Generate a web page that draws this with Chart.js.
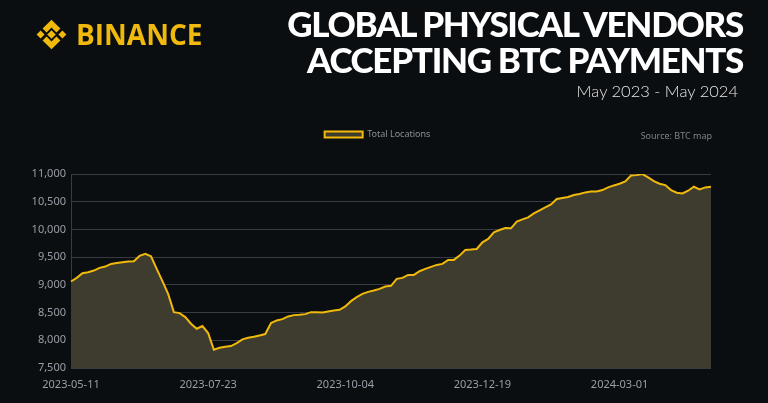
<!DOCTYPE html>
<html>
<head>
<meta charset="utf-8">
<script src="https://cdn.jsdelivr.net/npm/chart.js@4.4.1/dist/chart.umd.min.js"></script>
<style>
  html, body { margin: 0; padding: 0; background: #0b0e11; }
  #wrap { position: relative; width: 768px; height: 403px; overflow: hidden; background: #0b0e11; }
  #chart { position: absolute; left: 0; top: 0; }
  .logo { position: absolute; left: 35px; top: 15px; display: flex; align-items: center; }
  .logo span { font-family: "Open Sans", sans-serif; font-weight: 700; font-size: 28px; color: #f0b90b; margin-left: 8px; }
  .title { position: absolute; right: 25px; top: 5px; text-align: right; font-family: Lato, sans-serif; font-weight: 900;
           font-size: 35px; line-height: 36px; color: #fff; letter-spacing: -1.3px; }
  .sub { position: absolute; right: 30px; top: 81px; font-family: Lato, sans-serif; font-weight: 300; font-size: 16.5px; color: #e4e4e4; }
  .source { position: absolute; right: 56px; top: 129px; font-family: "Noto Sans", sans-serif; font-size: 9px; color: #7d8188; }
</style>
</head>
<body>
<div id="wrap">
  <canvas id="chart" width="768" height="403"></canvas>
  <div class="logo">
    <svg width="33" height="33" viewBox="0 0 100 100">
      <g fill="#f0b90b">
        <polygon points="50,37 63,50 50,63 37,50"/>
        <polygon points="5,50 17,38 29,50 17,62"/>
        <polygon points="71,50 83,38 95,50 83,62"/>
        <polygon points="50,5 77,32 65,44 50,29 35,44 23,32"/>
        <polygon points="50,95 77,68 65,56 50,71 35,56 23,68"/>
      </g>
    </svg>
    <span>BINANCE</span>
  </div>
  <div class="title">GLOBAL PHYSICAL VENDORS<br>ACCEPTING BTC PAYMENTS</div>
  <div class="sub">May 2023 - May 2024</div>
  <div class="source">Source: BTC map</div>
</div>
<script>
const seriesName = "Total Locations";
const tickDates = ["2023-05-11", "2023-07-23", "2023-10-04", "2023-12-19", "2024-03-01"];
const pointsPerTick = 24;
const locations = [
  9060, 9126, 9210, 9228, 9258, 9306, 9330, 9378, 9396, 9408,
  9420, 9426, 9522, 9558, 9516, 9288, 9066, 8838, 8508, 8490,
  8418, 8298, 8208, 8256, 8130, 7830, 7866, 7884, 7896, 7950,
  8016, 8046, 8064, 8088, 8112, 8310, 8358, 8382, 8430, 8454,
  8460, 8472, 8508, 8508, 8502, 8520, 8538, 8550, 8610, 8706,
  8778, 8838, 8874, 8898, 8928, 8970, 8982, 9108, 9126, 9180,
  9180, 9246, 9288, 9324, 9360, 9378, 9450, 9450, 9528, 9630,
  9636, 9648, 9768, 9828, 9948, 9990, 10026, 10020, 10140, 10182,
  10218, 10290, 10344, 10398, 10452, 10548, 10566, 10584, 10620, 10638,
  10668, 10686, 10686, 10710, 10758, 10794, 10824, 10866, 10974, 10980,
  10998, 10938, 10872, 10824, 10800, 10710, 10662, 10650, 10698, 10770,
  10722, 10758, 10770
];
const labels = locations.map((v, i) => i);

const gridColor = "rgba(190,200,215,0.25)";
const tickColor = "#9a9ea6";

// extra space under the legend, and nudge it right like the original
const legendTweak = {
  id: "legendTweak",
  beforeInit(chart) {
    const fit = chart.legend.fit;
    chart.legend.fit = function () {
      fit.bind(chart.legend)();
      this.height += 25;
    };
  },
  afterLayout(chart) {
    chart.legend.left += 22;
    chart.legend.right += 22;
  }
};

new Chart(document.getElementById("chart"), {
  type: "line",
  data: {
    labels: labels,
    datasets: [{
      label: seriesName,
      data: locations,
      borderColor: "#f0b90b",
      backgroundColor: "#3e3b2f",
      borderWidth: 2,
      pointRadius: 0,
      tension: 0,
      fill: "start"
    }]
  },
  options: {
    responsive: false,
    animation: false,
    layout: { padding: { top: 120, right: 57, left: 0, bottom: 0 } },
    plugins: {
      legend: {
        labels: {
          color: "#8a8d93",
          boxWidth: 38,
          boxHeight: 6,
          padding: 10,
          font: { family: "Noto Sans", size: 9 }
        }
      },
      tooltip: { enabled: false }
    },
    scales: {
      x: {
        grid: { display: false, drawTicks: false },
        border: { display: false },
        afterFit(scale) { scale.height = 35; },
        ticks: {
          color: tickColor,
          padding: 10,
          autoSkip: false,
          maxRotation: 0,
          font: { family: "Noto Sans", size: 11 },
          callback: (v, i) => (i % pointsPerTick === 0 ? tickDates[i / pointsPerTick] : null)
        }
      },
      y: {
        min: 7500,
        max: 11000,
        z: 1,
        afterFit(scale) { scale.width = 71; },
        grid: { color: gridColor, drawTicks: false },
        border: { color: gridColor },
        ticks: {
          stepSize: 500,
          color: tickColor,
          padding: 5,
          font: { family: "Noto Sans", size: 11 }
        }
      }
    }
  },
  plugins: [legendTweak]
});
</script>
</body>
</html>
